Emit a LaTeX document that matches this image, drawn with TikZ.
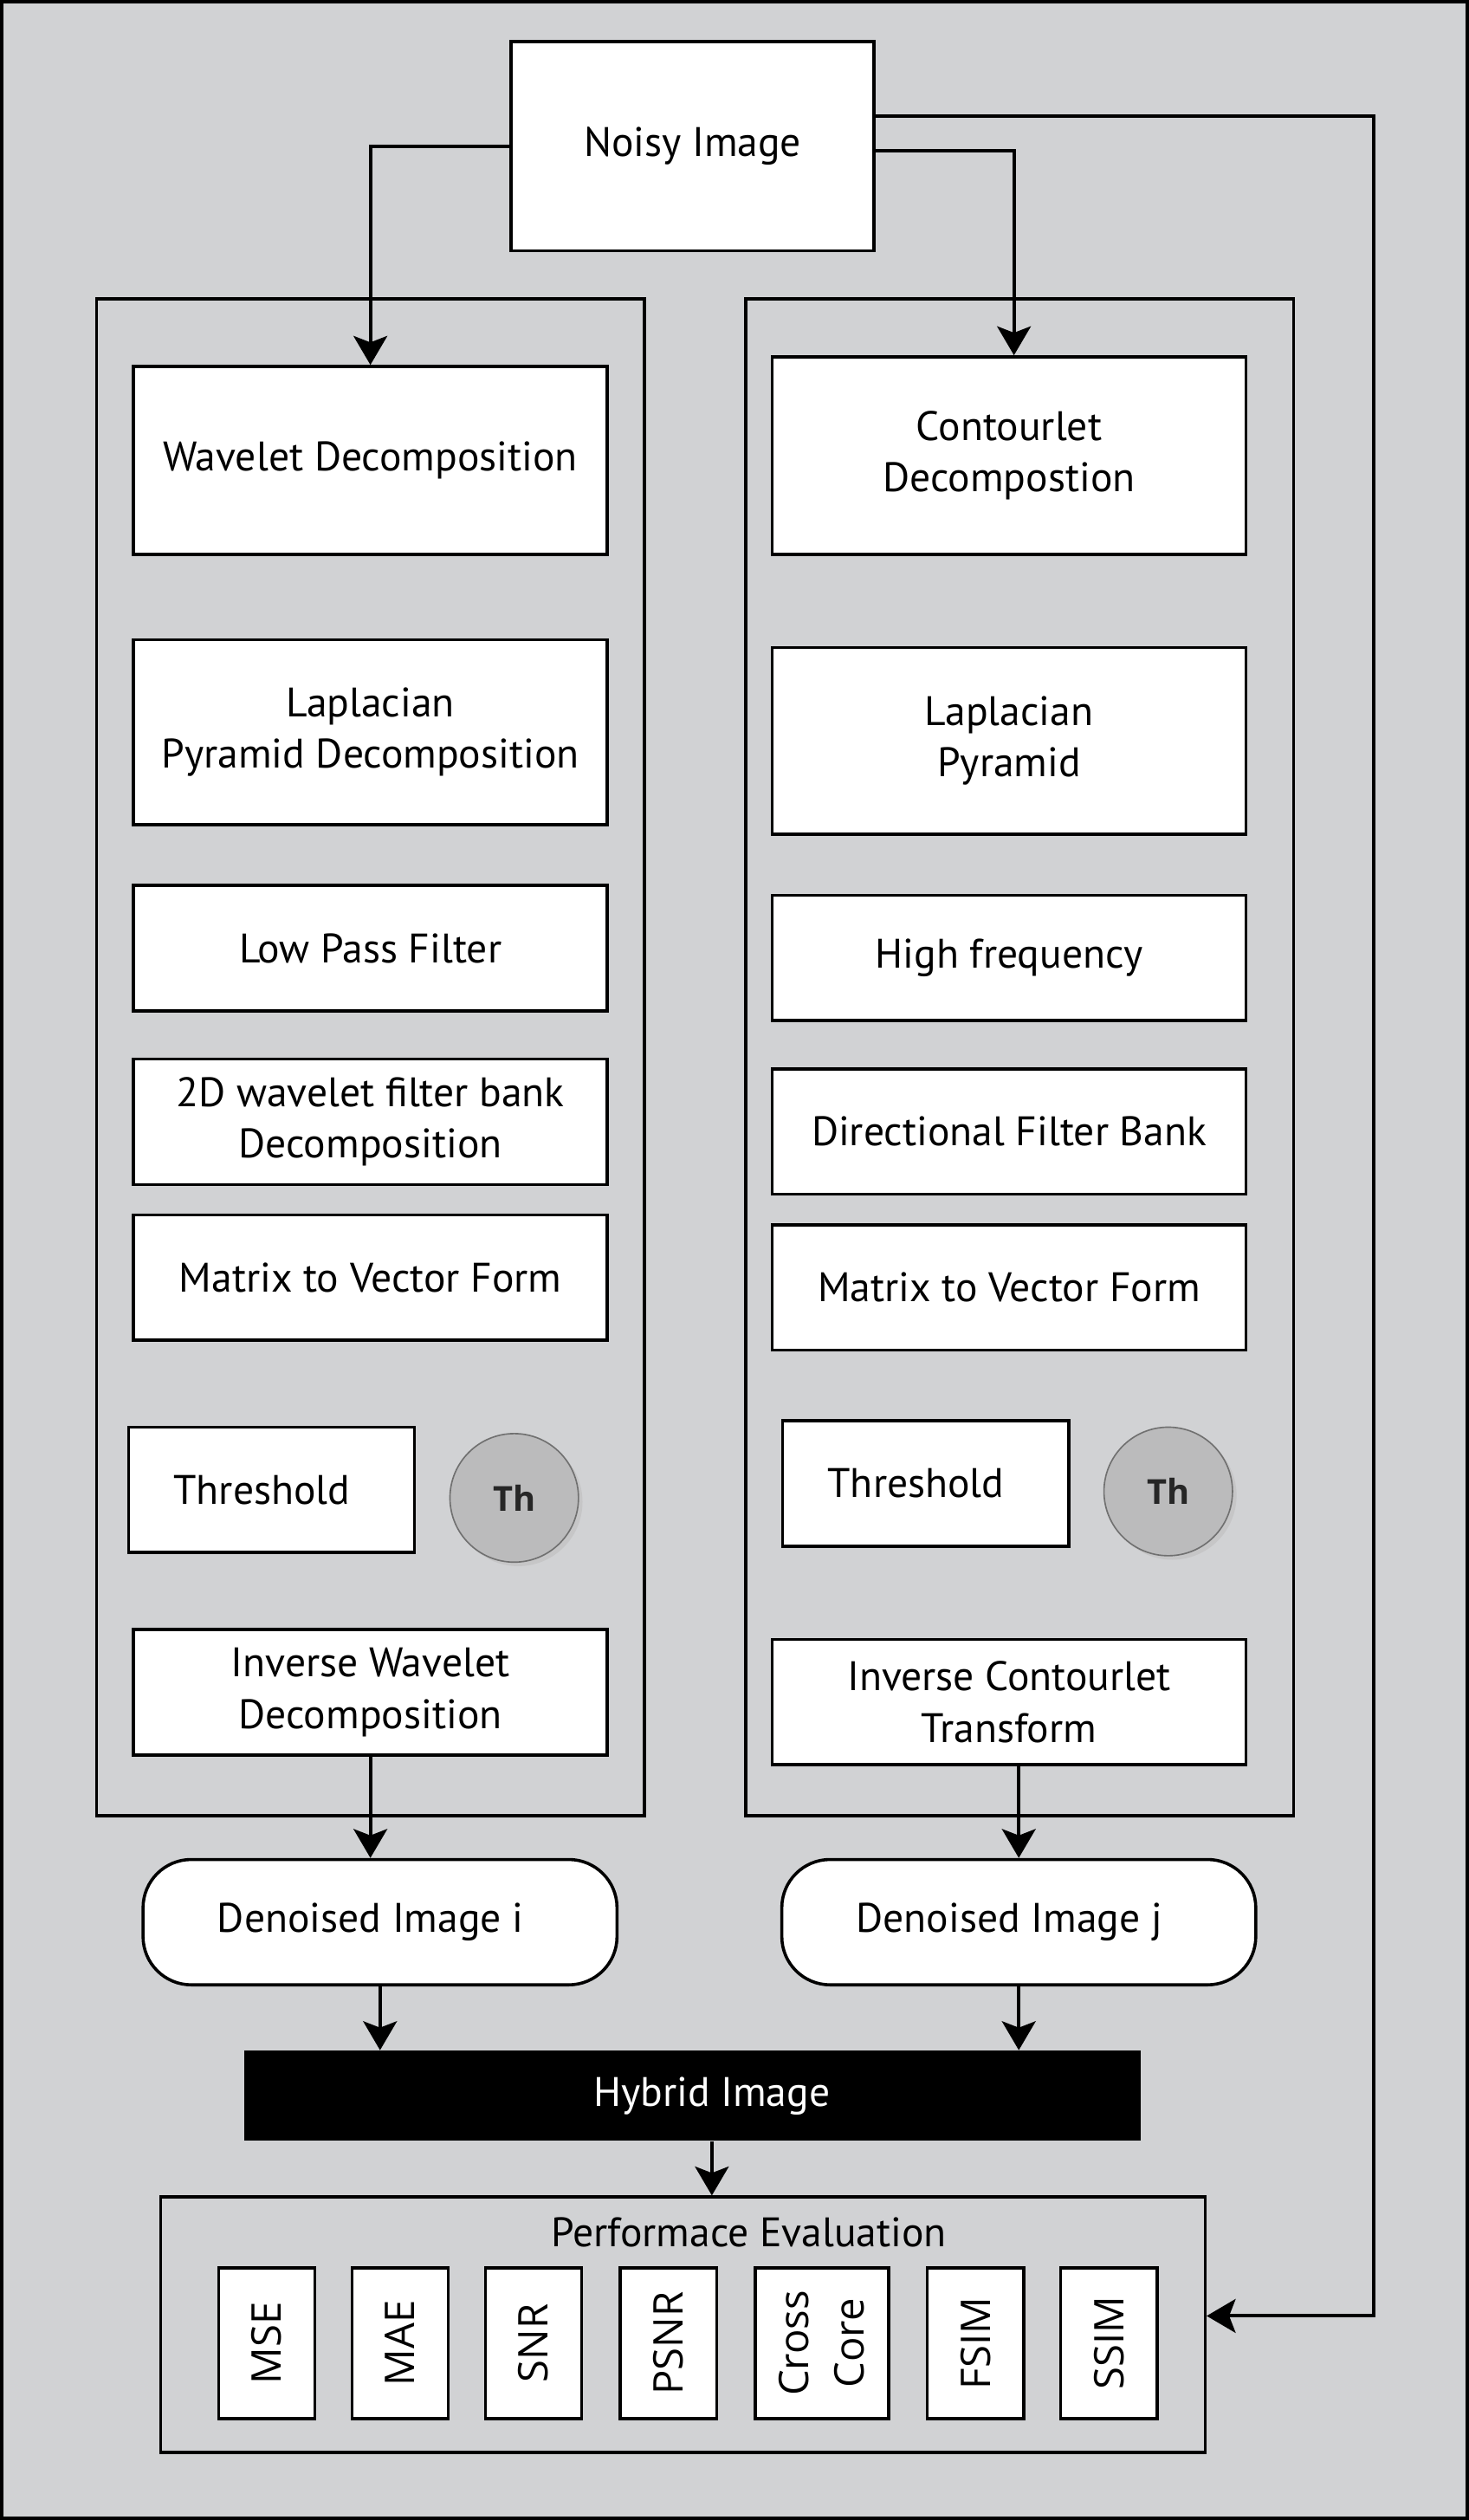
\documentclass[tikz,border=0pt]{standalone}
\usepackage{fontspec}
\setmainfont{PT Sans}
\newfontfamily\metricfont{Open Sans}
\usetikzlibrary{arrows.meta,shadows}

\definecolor{bggray}{RGB}{209,210,212}
\definecolor{thgray}{RGB}{187,187,188}
\definecolor{thline}{RGB}{112,112,112}

\begin{document}
\begin{tikzpicture}[x=0.02cm, y=-0.02cm,
  every node/.style = {align=center, font=\fontsize{14.6}{18.2}\selectfont},
  block/.style = {draw, line width=1.1pt, fill=white, minimum width=5.9cm},
  panel/.style = {draw, line width=1.1pt, minimum width=6.82cm, minimum height=18.88cm},
  thcircle/.style = {circle, draw=thline, line width=0.5pt, fill=thgray,
    minimum size=1.6cm, text=black!85,
    font=\metricfont\bfseries\fontsize{12.2}{14}\selectfont,
    drop shadow={shadow xshift=0.05cm, shadow yshift=-0.05cm, fill=black!25, opacity=0.6}},
  result/.style = {draw, line width=1.1pt, fill=white, rounded corners=0.6cm,
    minimum width=5.9cm, minimum height=1.56cm},
  metric/.style = {draw, line width=1.1pt, fill=white, rotate=90,
    minimum width=1.88cm, minimum height=1.2cm,
    font=\metricfont\fontsize{14.5}{19.7}\selectfont},
  arr/.style = {-{Stealth[length=0.36cm, width=0.42cm, inset=0.08cm]}, line width=1.2pt}]

  \useasboundingbox (0,0) rectangle (914,1568);
  \draw[line width=1.2pt, fill=bggray] (1,1) rectangle (913,1567);

  % input
  \node[block, minimum width=4.52cm, minimum height=2.6cm] (noisy) at (431,91) {Noisy Image};

  % two branches
  \node[panel] (panl) at (230.5,658) {};
  \node[panel] (panr) at (634.5,658) {};

  \node[block, minimum height=2.34cm] (wd) at (230.5,286.5) {Wavelet Decomposition};
  \node[block, minimum height=2.3cm] (lp) at (230.5,455.5) {Laplacian\\Pyramid Decomposition};
  \node[block, minimum height=1.56cm] (lpf) at (230.5,590) {Low Pass Filter};
  \node[block, minimum height=1.56cm] (fb) at (230.5,698) {2D wavelet filter bank\\Decomposition};
  \node[block, minimum height=1.56cm] (mv) at (230.5,795) {Matrix to Vector Form};
  \node[block, minimum width=3.56cm, minimum height=1.56cm] (thl) at (169,927) {Threshold\hspace*{0.24cm}};
  \node[thcircle] (thcl) at (320,932) {Th};
  \node[block, minimum height=1.56cm] (iw) at (230.5,1053) {Inverse Wavelet\\Decomposition};

  \node[block, minimum height=2.46cm] (cd) at (628,283.5) {Contourlet\\Decompostion};
  \node[block, minimum height=2.32cm] (lpr) at (628,461) {Laplacian\\Pyramid};
  \node[block, minimum height=1.56cm] (hf) at (628,596) {High frequency};
  \node[block, minimum height=1.56cm] (dfb) at (628,704) {Directional Filter Bank};
  \node[block, minimum height=1.56cm] (mvr) at (628,801) {Matrix to Vector Form};
  \node[block, minimum width=3.56cm, minimum height=1.56cm] (thr) at (576,923) {Threshold\hspace*{0.24cm}};
  \node[thcircle] (thcr) at (727,928) {Th};
  \node[block, minimum height=1.56cm] (ic) at (628,1059) {Inverse Contourlet\\Transform};

  % outputs
  \node[result] (dni) at (236.5,1196) {Denoised Image i\hspace*{0.24cm}};
  \node[result] (dnj) at (634,1196) {Denoised Image j\hspace*{0.24cm}};
  \node[fill=black, text=white, minimum width=11.16cm, minimum height=1.12cm] (hyb) at (431,1304)
    {\hspace*{0.48cm}Hybrid Image};

  % evaluation
  \node[draw, line width=1.1pt, minimum width=13cm, minimum height=3.18cm] (perf) at (425,1446.5) {};
  \node (perft) at (466,1389) {Performace Evaluation};
  \node[metric] (mse) at (166,1458) {MSE};
  \node[metric] (mae) at (249,1458) {MAE};
  \node[metric] (snr) at (332,1458) {SNR};
  \node[metric] (psnr) at (416,1458) {PSNR};
  \node[metric, minimum height=1.66cm] (cc) at (511.5,1458) {Cross\\Core};
  \node[metric] (fsim) at (607,1458) {FSIM};
  \node[metric] (ssim) at (690,1458) {SSIM};

  % connectors
  \coordinate (rt) at (855,1441);
  \coordinate (hb) at ([xshift=0.24cm]hyb.south);
  \draw[arr] (noisy.west) -| (wd.north);
  \draw[arr] ([yshift=-0.06cm]noisy.east) -| ([xshift=0.06cm]cd.north);
  \draw[arr] ([yshift=0.38cm]noisy.east) -| (rt) -- (perf.east |- rt);
  \draw[arr] (iw.south) -- (iw.south |- dni.north);
  \draw[arr] (dnj.north |- ic.south) -- (dnj.north);
  \draw[arr] (dni.south) -- (dni.south |- hyb.north);
  \draw[arr] (dnj.south) -- (dnj.south |- hyb.north);
  \draw[arr] (hb) -- (hb |- perf.north);
\end{tikzpicture}
\end{document}
